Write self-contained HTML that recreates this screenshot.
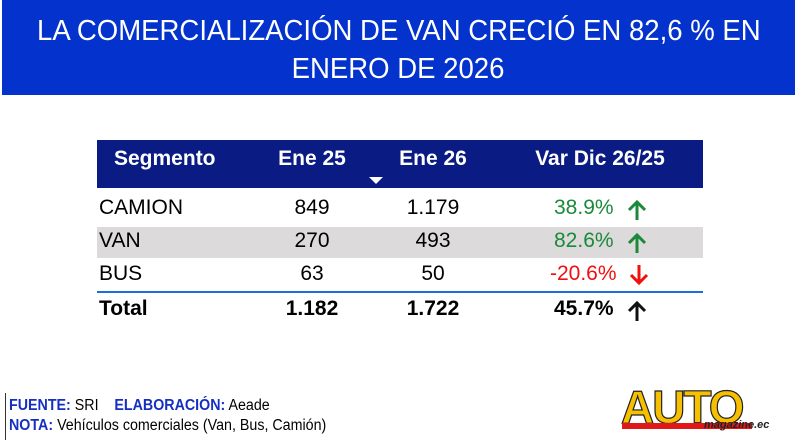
<!DOCTYPE html>
<html><head><meta charset="utf-8"><style>
body{margin:0;width:800px;height:445px;background:#fff;position:relative;overflow:hidden;font-family:"Liberation Sans",sans-serif}
.ban{position:absolute;left:2px;top:0;width:793px;height:95px;background:#0333cc;color:#fff;text-align:center;font-size:29px;line-height:38px;padding-top:12px;box-sizing:border-box}
.ban span{display:inline-block;transform:scaleX(.95);white-space:nowrap}
.t{position:absolute;font-size:21px;white-space:nowrap}
.c{transform:translateX(-50%)}
.hd{position:absolute;left:97px;top:140px;width:606px;height:48px;background:#0a1c84}
.h{color:#fff;font-weight:bold;font-size:21px;top:147px}
svg.a{position:absolute}
</style></head><body>
<div class="ban"><span>LA COMERCIALIZACIÓN DE VAN CRECIÓ EN 82,6 % EN</span><br><span>ENERO DE 2026</span></div>
<div class="hd"></div>
<div style="position:absolute;left:97px;top:227px;width:606px;height:31px;background:#dcdada"></div>
<div style="position:absolute;left:97px;top:291px;width:606px;height:2px;background:#1a6fe0"></div>
<div class="t h" style="left:114px">Segmento</div>
<div class="t h c" style="left:312px">Ene 25</div>
<div class="t h c" style="left:433px">Ene 26</div>
<div class="t h c" style="left:600px">Var Dic 26/25</div>
<div style="position:absolute;left:369px;top:177px;width:0;height:0;border-left:7px solid transparent;border-right:7px solid transparent;border-top:7px solid #fff"></div>

<div class="t" style="left:99px;top:196px">CAMION</div>
<div class="t c" style="left:312px;top:196px">849</div>
<div class="t c" style="left:433px;top:196px">1.179</div>
<div class="t" style="left:554px;top:196px;color:#1a8a3a">38.9%</div>
<svg class="a" style="left:627px;top:199px" width="20" height="22"><path d="M10 21V3M2 11L10 3L18 11" stroke="#1a8a3a" stroke-width="3" fill="none"/></svg>

<div class="t" style="left:99px;top:229px">VAN</div>
<div class="t c" style="left:312px;top:229px">270</div>
<div class="t c" style="left:433px;top:229px">493</div>
<div class="t" style="left:554px;top:229px;color:#1a8a3a">82.6%</div>
<svg class="a" style="left:627px;top:232px" width="20" height="22"><path d="M10 21V3M2 11L10 3L18 11" stroke="#1a8a3a" stroke-width="3" fill="none"/></svg>

<div class="t" style="left:99px;top:262px">BUS</div>
<div class="t c" style="left:312px;top:262px">63</div>
<div class="t c" style="left:433px;top:262px">50</div>
<div class="t" style="left:550px;top:262px;color:#f01010">-20.6%</div>
<svg class="a" style="left:629px;top:264px" width="20" height="22"><path d="M10 1V19M2 11L10 19L18 11" stroke="#f01010" stroke-width="3" fill="none"/></svg>

<div class="t" style="left:99px;top:297px;font-weight:bold">Total</div>
<div class="t c" style="left:312px;top:297px;font-weight:bold">1.182</div>
<div class="t c" style="left:433px;top:297px;font-weight:bold">1.722</div>
<div class="t" style="left:554px;top:297px;font-weight:bold">45.7%</div>
<svg class="a" style="left:627px;top:300px" width="20" height="22"><path d="M10 21V3M2 11L10 3L18 11" stroke="#111" stroke-width="3" fill="none"/></svg>

<div style="position:absolute;left:5px;top:393px;width:1px;height:47px;background:#333"></div>
<div class="t" style="left:9px;top:397px;font-size:15.5px;transform:scaleX(.92);transform-origin:left"><b style="color:#1530c0">FUENTE:</b> SRI &nbsp;&nbsp;&nbsp;<b style="color:#1530c0">ELABORACIÓN:</b> Aeade</div>
<div class="t" style="left:9px;top:417px;font-size:15.5px;transform:scaleX(.92);transform-origin:left"><b style="color:#1530c0">NOTA:</b> Vehículos comerciales (Van, Bus, Camión)</div>

<div class="t" style="left:621px;top:380px;font-size:46px;font-weight:bold;color:#f6c000;-webkit-text-stroke:1.2px #222;letter-spacing:-2px;transform:scaleX(1.0);transform-origin:left">AUTO</div>
<div style="position:absolute;left:622px;top:423px;width:130px;height:6px;background:#e01818"></div>
<div class="t" style="left:704px;top:419px;font-size:11px;font-style:italic;font-weight:bold;color:#222">magazine.ec</div>
</body></html>
